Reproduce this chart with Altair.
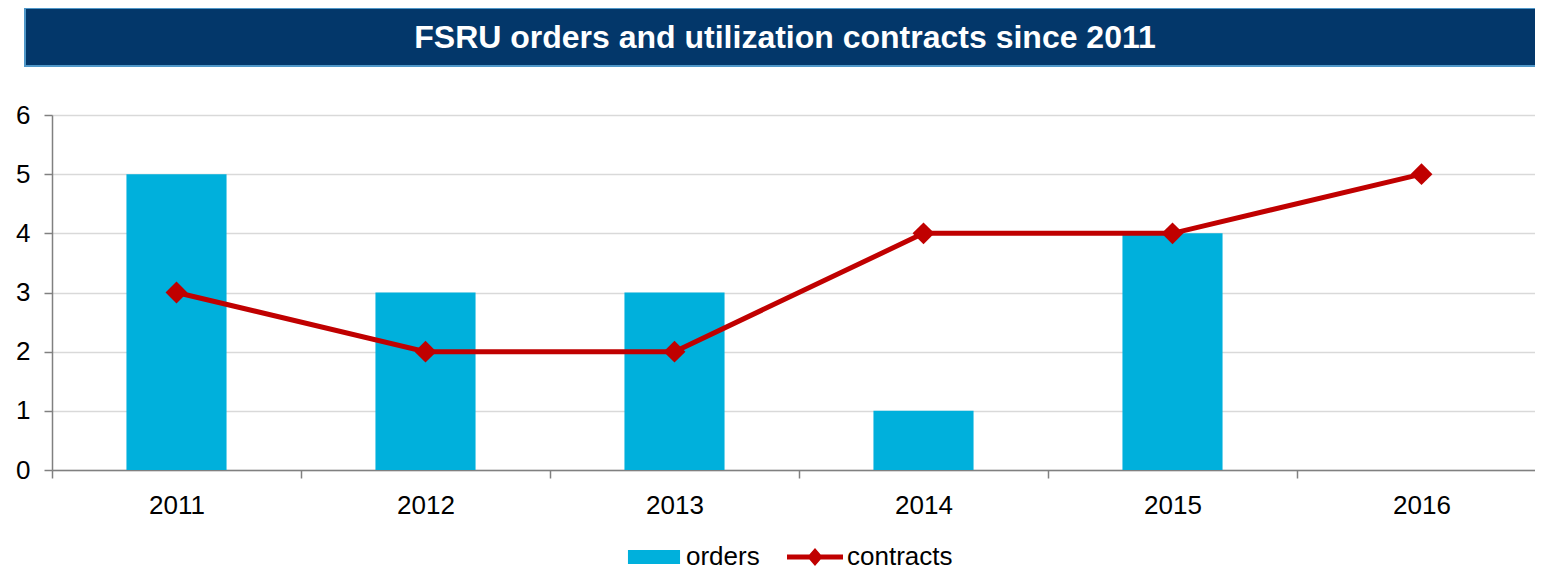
import altair as alt
import pandas as pd

years = ["2011", "2012", "2013", "2014", "2015", "2016"]
orders = [5, 3, 3, 1, 4, None]
contracts = [3, 2, 2, 4, 4, 5]
series_names = ["orders", "contracts"]
title_text = "FSRU orders and utilization contracts since 2011"

FONT = "Liberation Sans"
BAR = "#00b0dc"
RED = "#c00000"

df = pd.DataFrame({"year": years, "orders": orders, "contracts": contracts})
legend_df = pd.DataFrame({"series": series_names})
banner_df = pd.DataFrame({"t": [title_text]})

W, H = 1494, 355

x_enc = alt.X(
    "year:N",
    title=None,
    sort=years,
    scale=alt.Scale(paddingInner=0, paddingOuter=0),
    axis=alt.Axis(
        labelAngle=0,
        labelFont=FONT,
        labelFontSize=26,
        labelColor="black",
        labelPadding=14,
        tickBand="extent",
        tickSize=8,
        tickColor="#808080",
        tickWidth=1.5,
        domainColor="#808080",
        domainWidth=1.5,
        grid=False,
    ),
)
y_scale = alt.Scale(domain=[0, 6])
y_axis = alt.Axis(
    values=[0, 1, 2, 3, 4, 5, 6],
    format="d",
    labelFont=FONT,
    labelFontSize=26,
    labelColor="black",
    labelPadding=14,
    tickSize=8,
    tickColor="#808080",
    tickWidth=1.5,
    domainColor="#808080",
    domainWidth=1.5,
    gridColor="#d9d9d9",
    gridWidth=1.5,
)

bars = alt.Chart(df).mark_bar(color=BAR, width=alt.RelativeBandSize(0.402)).encode(
    x=x_enc,
    y=alt.Y("orders:Q", title=None, scale=y_scale, axis=y_axis),
)

line = alt.Chart(df).mark_line(color=RED, strokeWidth=5).encode(
    x=alt.X("year:N", sort=years),
    y=alt.Y("contracts:Q"),
)
points = alt.Chart(df).mark_point(
    shape="diamond", filled=True, color=RED, size=480, opacity=1
).encode(
    x=alt.X("year:N", sort=years),
    y=alt.Y("contracts:Q"),
)

rect_path = "M-0.93,-0.25L0.93,-0.25L0.93,0.25L-0.93,0.25Z"
line_path = ("M-1,-0.09L-0.2,-0.09L0,-0.32L0.2,-0.09L1,-0.09L1,0.09"
             "L0.2,0.09L0,0.32L-0.2,0.09L-1,0.09Z")

legend_layer = alt.Chart(legend_df).mark_point(filled=True, opacity=1).encode(
    color=alt.Color(
        "series:N",
        scale=alt.Scale(domain=series_names, range=[BAR, RED]),
        legend=alt.Legend(
            title=None,
            orient="none",
            direction="horizontal",
            legendX=574,
            legendY=414,
            labelFont=FONT,
            labelFontSize=26,
            labelColor="black",
            labelOffset=4,
            columnPadding=27,
            symbolSize=3136,
            symbolStrokeWidth=0,
            symbolOpacity=1,
        ),
    ),
    shape=alt.Shape(
        "series:N",
        scale=alt.Scale(domain=series_names, range=[rect_path, line_path]),
        legend=None,
    ),
).transform_filter("false")

banner = alt.Chart(banner_df).mark_rect(
    color="#03376a", stroke="#4f97c8", strokeWidth=2
).encode(
    x=alt.value(-27), x2=alt.value(1510), y=alt.value(-107), y2=alt.value(-49)
)
banner_text = alt.Chart(banner_df).mark_text(
    font=FONT, fontSize=32, fontWeight="bold", color="white",
    align="center", baseline="middle"
).encode(
    x=alt.value(733), y=alt.value(-77), text="t:N"
)

chart = alt.layer(banner, banner_text, bars, line, points, legend_layer).properties(
    width=W,
    height=H,
    padding={"left": 44, "top": 107, "right": -11, "bottom": 97},
    autosize=alt.AutoSizeParams(type="none"),
).configure_view(stroke=None).configure(background="white")

chart.save("out.html", embed_options={"renderer": "svg", "actions": False})
